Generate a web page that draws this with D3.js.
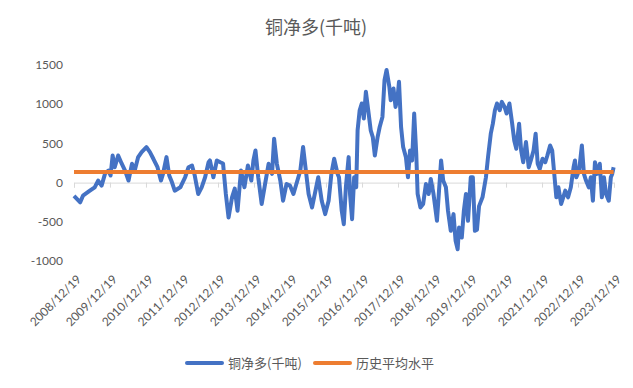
<!DOCTYPE html>
<html>
<head>
<meta charset="utf-8">
<script src="https://cdn.jsdelivr.net/npm/d3@7"></script>
<style>
  body { margin: 0; background: #fff; }
  svg { display: block; }
  text { fill: #595959; }
</style>
</head>
<body>
<div id="chart"></div>
<script>
// weekly net long, index = weeks since 2008/12/19
const weeks = [0, 9, 13, 23, 30, 35, 40, 45, 50, 53, 56, 59, 64, 69, 74, 79, 84, 88, 93, 98,
  105, 110, 115, 121, 126, 129, 134, 138, 142, 146, 154, 161, 166, 171, 175, 180, 185, 190, 195, 197,
  202, 207, 212, 216, 220, 224, 229, 233, 237, 242, 247, 252, 257, 260, 263, 267, 272, 277, 282, 287,
  290, 294, 299, 303, 308, 313, 318, 323, 328, 332, 336, 340, 345, 349, 354, 359, 364, 369, 373, 377,
  382, 384, 388, 391, 394, 398, 400, 403, 406, 409, 411, 414, 417, 420, 423, 427, 430, 433, 436, 440,
  443, 447, 450, 453, 457, 459, 463, 466, 469, 471, 474, 477, 481, 484, 487, 490, 493, 496, 498, 502,
  506, 510, 514, 517, 521, 526, 529, 532, 535, 539, 542, 546, 550, 553, 556, 558, 562, 565, 568, 571,
  575, 578, 581, 584, 587, 592, 597, 600, 604, 607, 610, 613, 617, 620, 624, 627, 631, 635, 638, 641,
  645, 648, 651, 655, 659, 662, 666, 669, 672, 675, 679, 683, 686, 690, 693, 696, 699, 702, 706, 709,
  712, 716, 720, 724, 726, 728, 732, 736, 739, 742, 746, 749, 752, 755, 758, 762, 765, 768, 771, 775,
  778, 780, 782];
const netLong = [-170, -252, -167, -103, -60, 26, -38, 115, 154, 90, 346, 196, 346, 244, 154, 26, 240, 154, 325, 389,
  453, 389, 304, 196, 26, 111, 325, 90, 4, -103, -60, 68, 196, 218, 90, -145, -60, 68, 260, 282,
  68, 282, 260, 244, -141, -445, -188, -77, -359, 154, -60, 218, 26, 282, 410, 68, -273, -13, 240, 111,
  560, 240, 26, -231, -17, -38, -145, 4, 154, 453, 154, -145, -317, -145, 68, -231, -402, -231, 111, 304,
  111, 68, -359, -530, -60, 325, -145, -466, 68, -60, 667, 923, 1009, 817, 1158, 881, 667, 581, 346, 581,
  709, 837, 1308, 1436, 1222, 1051, 1201, 965, 1094, 1286, 709, 453, 325, 68, 410, 282, 881, 368, -145, -317,
  -273, -17, -145, 47, -145, -487, -103, 282, 26, -60, -359, -615, -402, -743, -850, -573, -701, -359, -145, -487,
  68, 68, -615, -600, -300, -188, 68, 325, 624, 752, 923, 1009, 923, 1030, 965, 881, 1009, 752, 538, 432,
  752, 410, 260, 517, 196, 282, 410, 624, 240, 175, 304, 260, 346, 474, 410, 111, -188, -60, -273, -188,
  -103, -188, -60, 196, 282, 68, 154, 474, 111, 26, -60, 68, -231, 260, 111, 240, -188, 68, -145, -231,
  68, 111, 196];
const histAvg = 135;
const yTicks = [-1000, -500, 0, 500, 1000, 1500];
const xLabels = ["2008/12/19", "2009/12/19", "2010/12/19", "2011/12/19", "2012/12/19", "2013/12/19",
  "2014/12/19", "2015/12/19", "2016/12/19", "2017/12/19", "2018/12/19", "2019/12/19", "2020/12/19",
  "2021/12/19", "2022/12/19", "2023/12/19"];

const width = 633, height = 388;
const start = new Date(2008, 11, 19), end = new Date(2023, 11, 19);
const parse = d3.timeParse("%Y/%m/%d");

const data = weeks.map((w, i) => ({ date: d3.timeWeek.offset(start, w), v: netLong[i] }));

const x = d3.scaleTime().domain([start, end]).range([74, 614]);
const y = d3.scaleLinear().domain([-1000, 1500]).range([261, 65]);

const svg = d3.select("#chart").append("svg")
  .attr("width", width)
  .attr("height", height);

svg.append("text")
  .attr("x", 316).attr("y", 34)
  .attr("text-anchor", "middle")
  .style("font-family", "'Noto Sans CJK SC', sans-serif")
  .style("font-size", "18px")
  .text("铜净多(千吨)");

// y axis labels (no line)
svg.append("g")
  .selectAll("text")
  .data(yTicks)
  .enter().append("text")
  .attr("x", 63)
  .attr("y", d => y(d))
  .attr("dy", "0.35em")
  .attr("text-anchor", "end")
  .style("font-family", "Lato, 'Noto Sans', sans-serif")
  .style("font-size", "12px")
  .text(d => d);

// x axis at zero
const xAxis = d3.axisBottom(x)
  .tickValues(xLabels.map(parse))
  .tickSize(5)
  .tickFormat("");
const gx = svg.append("g")
  .attr("transform", `translate(0,${y(0)})`)
  .call(xAxis);
gx.select(".domain").attr("stroke", "#d9d9d9");
gx.selectAll(".tick line").attr("stroke", "#d9d9d9");

svg.append("g")
  .selectAll("text")
  .data(xLabels)
  .enter().append("text")
  .attr("transform", d => `translate(${x(parse(d)) + 5},${277}) rotate(-45)`)
  .attr("dy", "0.35em")
  .attr("text-anchor", "end")
  .style("font-family", "Lato, 'Noto Sans', sans-serif")
  .style("font-size", "12px")
  .text(d => d);

const line = d3.line()
  .x(d => x(d.date))
  .y(d => y(d.v));

svg.append("path")
  .datum(data)
  .attr("fill", "none")
  .attr("stroke", "#4472C4")
  .attr("stroke-width", 4)
  .attr("stroke-linejoin", "round")
  .attr("d", line);

svg.append("path")
  .datum(data)
  .attr("fill", "none")
  .attr("stroke", "#ED7D31")
  .attr("stroke-width", 4)
  .attr("d", d3.line().x(d => x(d.date)).y(() => y(histAvg)));

// legend
const legend = [
  { name: "铜净多(千吨)", color: "#4472C4", x: 187 },
  { name: "历史平均水平", color: "#ED7D31", x: 315 }
];
const lg = svg.append("g").selectAll("g")
  .data(legend)
  .enter().append("g")
  .attr("transform", d => `translate(${d.x},363)`);
lg.append("line")
  .attr("x1", 0).attr("x2", 35)
  .attr("stroke", d => d.color)
  .attr("stroke-width", 4)
  .attr("stroke-linecap", "round");
lg.append("text")
  .attr("x", 41)
  .attr("dy", "0.35em")
  .style("font-family", "'Noto Sans CJK SC', sans-serif")
  .style("font-size", "13px")
  .text(d => d.name);
</script>
</body>
</html>
